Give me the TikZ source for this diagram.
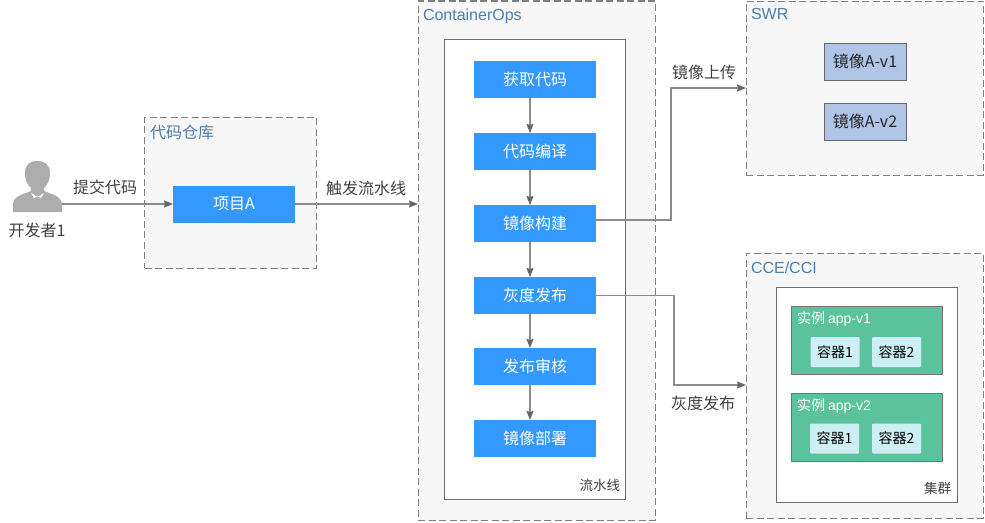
\documentclass[tikz,border=0pt]{standalone}
\usepackage{fontspec}
\setmainfont{Noto Sans CJK SC}
\newfontfamily\lat{Liberation Sans}
\usetikzlibrary{arrows.meta}
\definecolor{groupfill}{HTML}{F7F7F7}
\definecolor{dashc}{HTML}{808080}
\definecolor{linec}{HTML}{8C8C8C}
\definecolor{bluebox}{HTML}{3399FF}
\definecolor{titleblue}{HTML}{4A7FAF}
\definecolor{textc}{HTML}{404040}
\definecolor{imgfill}{HTML}{B0C4E6}
\definecolor{instfill}{HTML}{5AC39E}
\definecolor{contfill}{HTML}{CDEEF2}
\definecolor{personc}{HTML}{ADADAD}
\tikzset{
  x=1pt,y=-1pt,
  every node/.style={inner sep=0pt,outer sep=0pt,font=\fontsize{16}{18}\selectfont,text=textc},
  base/.style={rectangle,anchor=north west},
  group/.style={base,draw=dashc,fill=groupfill,line width=1pt,dash pattern=on 7pt off 3.5pt},
  panel/.style={base,draw=dashc!85!black,fill=white,line width=1pt},
  stepbox/.style={base,fill=bluebox,minimum width=122pt,minimum height=37pt,text=white,text depth=1pt},
  imgbox/.style={base,draw=black!60,fill=imgfill,line width=.7pt,minimum width=82pt,minimum height=37pt,text=black!85,text depth=1pt},
  inst/.style={base,draw=black!55,fill=instfill,line width=1pt,minimum width=151pt,minimum height=67.5pt},
  cont/.style={base,fill=contfill,rounded corners=1pt,minimum width=49pt,minimum height=30pt,text=black,font=\fontsize{14}{16}\selectfont},
  title/.style={anchor=west,text=titleblue},
  small/.style={anchor=east,font=\fontsize{13.5}{15}\selectfont,text=textc},
  insttitle/.style={anchor=west,text=white,font=\fontsize{14}{16}\selectfont},
  flow/.style={draw=linec,line width=1.1pt,-{Stealth[length=9pt,width=7pt,inset=1pt,color=black!60]}},
}
\begin{document}
\begin{tikzpicture}
\useasboundingbox (0,0) rectangle (985,522);
% groups
\node[group,minimum width=172pt,minimum height=151pt] (repo) at (144.5,117) {};
\node[title] (repot) at (150,132) {代码仓库};
\node[group,minimum width=237pt,minimum height=519pt] (co) at (418,1) {};
\node[title] (cot) at (423,16) {\lat ContainerOps};
\node[panel,minimum width=181pt,minimum height=460pt] (pipe) at (444,39) {};
\node[small] (pipet) at (620,485) {流水线};
\node[group,minimum width=237pt,minimum height=174pt] (swr) at (746,1) {};
\node[title] (swrt) at (751,14) {\lat SWR};
\node[group,minimum width=237pt,minimum height=265pt] (cce) at (746,253) {};
\node[title] (ccet) at (751,268) {\lat CCE/CCI};
\node[panel,minimum width=181pt,minimum height=215pt] (clu) at (776,287) {};
\node[small] (clut) at (951,488) {集群};
% developer
\node[minimum width=50pt,minimum height=52pt] (dev) at (37,187) {};
\fill[personc] (37,161) .. controls (45,161) and (50,165) .. (50,173) .. controls (50,181) and (47,185) .. (44,188) -- (44,191) .. controls (50,194) and (61,195) .. (62,204) -- (62,212) -- (13,212) -- (13,204) .. controls (14,195) and (25,194) .. (31,191) -- (31,188) .. controls (28,185) and (25,181) .. (25,173) .. controls (25,165) and (29,161) .. (37,161) -- cycle;
\fill[white] (31,193) -- (37.5,197) -- (44,193) -- (41,198) -- (37.5,196.5) -- (34,198) -- cycle;
\node (devt) at (37,230) {开发者1};
% project
\node[stepbox] (proj) at (173,185.5) {项目A};
% steps
\node[stepbox] (s1) at (474,61) {获取代码};
\node[stepbox] (s2) at (474,133) {代码编译};
\node[stepbox] (s3) at (474,205) {镜像构建};
\node[stepbox] (s4) at (474,277) {灰度发布};
\node[stepbox] (s5) at (474,348) {发布审核};
\node[stepbox] (s6) at (474,420) {镜像部署};
% images
\node[imgbox] (i1) at (824,43) {镜像A-v1};
\node[imgbox] (i2) at (824,103) {镜像A-v2};
% instances
\node[inst] (a1) at (791,306.5) {};
\node[insttitle] (a1t) at (797,319) {实例 {\lat app-v1}};
\node[cont] (c11) at (810.5,337) {容器1};
\node[cont] (c12) at (872,337) {容器2};
\node[inst] (a2) at (791,393.5) {};
\node[insttitle] (a2t) at (797,406) {实例 {\lat app-v2}};
\node[cont] (c21) at (810,423.5) {容器1};
\node[cont] (c22) at (872,423.5) {容器2};
% connectors
\coordinate (vx) at (530,0);
\draw[flow] (dev.east |- proj.west) -- (proj.west);
\draw[flow] (proj.east) -- (proj.east -| co.west);
\draw[flow] (s1.south -| vx) -- (s2.north -| vx);
\draw[flow] (s2.south -| vx) -- (s3.north -| vx);
\draw[flow] (s3.south -| vx) -- (s4.north -| vx);
\draw[flow] (s4.south -| vx) -- (s5.north -| vx);
\draw[flow] (s5.south -| vx) -- (s6.north -| vx);
\coordinate (up) at (671,88);
\coordinate (upo) at (596,220);
\coordinate (gr) at (674,385);
\draw[flow] (upo) -| (up) -- (up -| swr.west);
\draw[flow] (s4.east) -| (gr) -- (gr -| cce.west);
% labels
\node (l1) at (105,187) {提交代码};
\node (l2) at (366,188) {触发流水线};
\node (l3) at (704,72) {镜像上传};
\node (l4) at (703,403) {灰度发布};
\end{tikzpicture}
\end{document}
